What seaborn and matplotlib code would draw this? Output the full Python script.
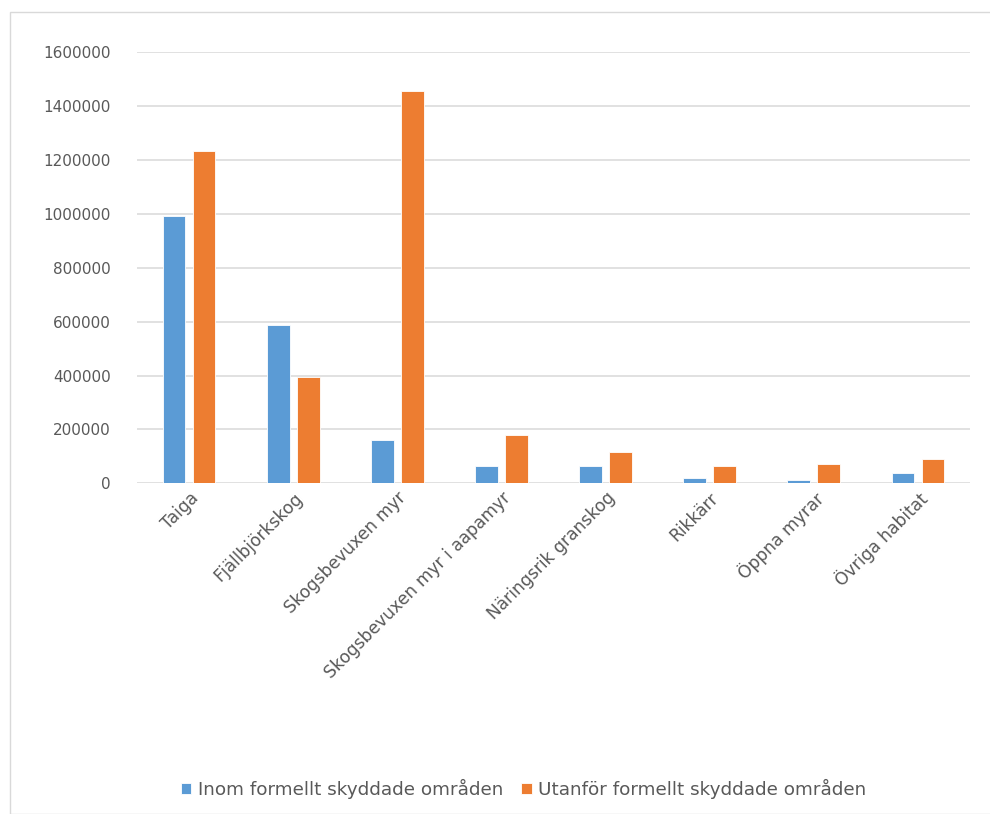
import matplotlib
matplotlib.use("Agg")
import matplotlib.pyplot as plt
import seaborn as sns
import pandas as pd
from matplotlib.patches import Rectangle

categories = ["Taiga", "Fjällbjörkskog", "Skogsbevuxen myr", "Skogsbevuxen myr i aapamyr",
              "Näringsrik granskog", "Rikkärr", "Öppna myrar", "Övriga habitat"]
inom = [992000, 586000, 160000, 64000, 64000, 20000, 13000, 39000]
utanfor = [1233000, 395000, 1456000, 179000, 115000, 64000, 70000, 89000]
series_names = ["Inom formellt skyddade områden", "Utanför formellt skyddade områden"]
yticks = [0, 200000, 400000, 600000, 800000, 1000000, 1200000, 1400000, 1600000]

df = pd.DataFrame({
    "cat": categories * 2,
    "val": inom + utanfor,
    "series": [series_names[0]] * len(categories) + [series_names[1]] * len(categories),
})

sns.set_theme(style="white")
plt.rcParams["font.family"] = ["DejaVu Sans"]

fig = plt.figure(figsize=(9.9, 8.14), dpi=100)
ax = fig.add_axes([137/990, 1 - 483.3/814, (970-137)/990, (483.3-52.3)/814])

palette = {series_names[0]: "#5B9BD5", series_names[1]: "#ED7D31"}
sns.barplot(data=df, x="cat", y="val", hue="series", palette=palette, ax=ax,
            width=0.577, gap=0.24, saturation=1, edgecolor="white", linewidth=0.6,
            legend=True)

ax.set_ylim(0, 1600000)
ax.set_yticks(yticks)
ax.set_yticklabels([str(t) for t in yticks], fontsize=11, color="#595959")
ax.set_xlim(-0.5, len(categories) - 0.5)
ax.set_xlabel("")
ax.set_ylabel("")
ax.yaxis.grid(True, color="#D9D9D9", linewidth=1.1)
ax.set_axisbelow(True)
for s in ax.spines.values():
    s.set_visible(False)
ax.tick_params(axis="y", length=0, pad=19)
ax.tick_params(axis="x", length=0, pad=4)
ax.set_xticks(range(len(categories)))
ax.set_xticklabels(categories, rotation=45, ha="right", rotation_mode="anchor",
                   fontsize=12.3, color="#595959")

handles, labels = ax.get_legend_handles_labels()
ax.legend_.remove()
fig.legend(handles, labels, loc="center", bbox_to_anchor=(0.529, 1 - 789/814),
           ncol=2, frameon=False, fontsize=13.2, handlelength=0.55, handleheight=0.55,
           handletextpad=0.35, columnspacing=1.0, labelcolor="#595959")

fig.patches.append(Rectangle((10/990, 0), 1.0, 1 - 12/814, transform=fig.transFigure,
                             fill=False, edgecolor="#D9D9D9", linewidth=1))

fig.savefig("out.png", dpi=100)
